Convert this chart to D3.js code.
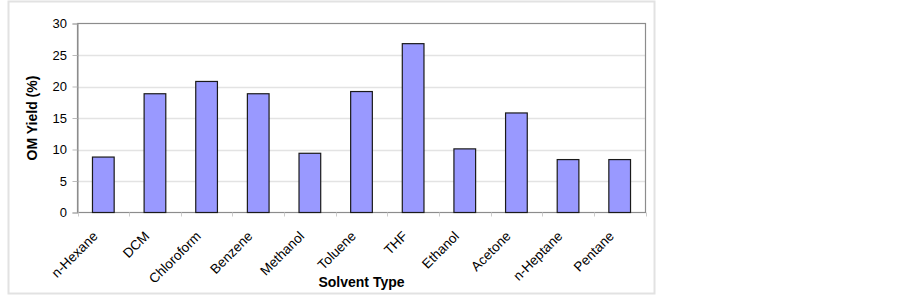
<!DOCTYPE html>
<html>
<head>
<meta charset="utf-8">
<script src="https://cdn.jsdelivr.net/npm/d3@7"></script>
<style>
  body { margin: 0; background: #fff; }
  text { font-family: Arial, "Liberation Sans", sans-serif; }
</style>
</head>
<body>
<svg id="chart" width="902" height="296"></svg>
<script>
const categories = ["n-Hexane", "DCM", "Chloroform", "Benzene", "Methanol", "Toluene", "THF", "Ethanol", "Acetone", "n-Heptane", "Pentane"];
const yieldValues = [8.8, 18.85, 20.8, 18.85, 9.4, 19.2, 26.8, 10.1, 15.8, 8.4, 8.4];
const yTicks = [0, 5, 10, 15, 20, 25, 30];
const yTitle = "OM Yield (%)";
const xTitle = "Solvent Type";

const svg = d3.select("#chart");
const plot = { left: 77.5, right: 645.5, top: 23.5, bottom: 212.5 };

// outer frame
svg.append("rect").attr("x", 8.5).attr("y", 1.5).attr("width", 646).attr("height", 292)
  .attr("fill", "#fff").attr("stroke", "#e2e2e2").attr("stroke-width", 2);

const x = d3.scaleBand().domain(categories).range([plot.left, plot.right])
  .paddingInner(0.58).paddingOuter(0.29);
const y = d3.scaleLinear().domain([0, 30]).range([plot.bottom, plot.top]);

// gridlines
svg.append("g").selectAll("line").data(yTicks.filter(t => t > 0 && t < 30)).join("line")
  .attr("x1", plot.left).attr("x2", plot.right)
  .attr("y1", d => Math.round(y(d)) + 0.5).attr("y2", d => Math.round(y(d)) + 0.5)
  .attr("stroke", "#e3e3e3").attr("stroke-width", 1.5);

// plot border
svg.append("rect").attr("x", plot.left).attr("y", plot.top)
  .attr("width", plot.right - plot.left).attr("height", plot.bottom - plot.top)
  .attr("fill", "none").attr("stroke", "#8c8c8c").attr("stroke-width", 1.2);

// y axis
const yAxis = d3.axisLeft(y).tickValues(yTicks).tickSize(5).tickPadding(5.5);
const gy = svg.append("g").attr("transform", `translate(${plot.left},0)`).call(yAxis);
gy.select(".domain").attr("stroke", "#8c8c8c");
gy.selectAll(".tick line").attr("stroke", "#bbb");
gy.selectAll(".tick text").attr("font-size", "13px").attr("fill", "#000")
  .attr("font-family", "Arial, 'Liberation Sans', sans-serif");

// x category boundary ticks
const step = x.step();
const bounds = d3.range(categories.length + 1).map(i => plot.left + i * step);
svg.append("g").selectAll("line").data(bounds).join("line")
  .attr("x1", d => Math.round(d) + 0.5).attr("x2", d => Math.round(d) + 0.5)
  .attr("y1", plot.bottom).attr("y2", plot.bottom + 4)
  .attr("stroke", "#ccc").attr("stroke-width", 1);

// bars
svg.append("g").selectAll("rect").data(categories).join("rect")
  .attr("x", d => x(d)).attr("width", x.bandwidth())
  .attr("y", (d, i) => y(yieldValues[i]))
  .attr("height", (d, i) => y(0) - y(yieldValues[i]))
  .attr("fill", "#9999ff").attr("stroke", "#1a1a1a").attr("stroke-width", 1.2);

// x labels
svg.append("g").selectAll("text").data(categories).join("text")
  .attr("transform", d => `translate(${x(d) + x.bandwidth() / 2 - 4.8},${plot.bottom + 24.5}) rotate(-45)`)
  .attr("text-anchor", "end")
  .attr("font-size", "13.5px").attr("fill", "#000")
  .text(d => d);

// axis titles
svg.append("text").attr("transform", `translate(37,${(plot.top + plot.bottom) / 2}) rotate(-90)`)
  .attr("text-anchor", "middle").attr("font-size", "14px").attr("font-weight", "bold")
  .text(yTitle);
svg.append("text").attr("x", (plot.left + plot.right) / 2).attr("y", 287)
  .attr("text-anchor", "middle").attr("font-size", "14px").attr("font-weight", "bold")
  .text(xTitle);
</script>
</body>
</html>
